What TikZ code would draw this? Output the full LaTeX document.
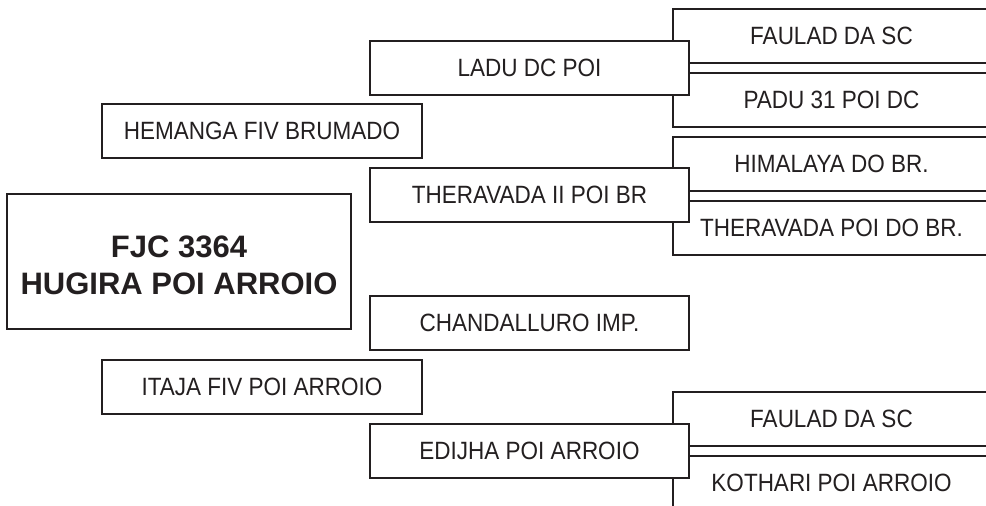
\documentclass[tikz,border=0pt]{standalone}
\usepackage{fontspec}
\setmainfont{Liberation Sans}
\newfontfamily\boxfont[FakeStretch=0.9]{Liberation Sans}
\definecolor{ink}{RGB}{35,31,32}
\begin{document}
\begin{tikzpicture}[x=1pt,y=-1pt,
  box/.style={draw=ink, line width=2pt, fill=white, minimum width=319pt, minimum height=54pt, inner sep=0pt, text=ink, font=\boxfont\fontsize{25}{30}\selectfont},
  rbox/.style={box, minimum width=317pt},
  mainbox/.style={box, minimum width=344pt, minimum height=135pt, align=center, font=\bfseries\fontsize{31}{37}\selectfont}]
\useasboundingbox (0,0) rectangle (986,506);
\clip (0,0) rectangle (986,506);
% right-hand pairs
\node[rbox] (r1a) at (831.5,35.5) {FAULAD DA SC};
\node[rbox] (r1b) at (831.5,99.5) {PADU 31 POI DC};
\node[rbox] (r2a) at (831.5,164) {HIMALAYA DO BR.};
\node[rbox] (r2b) at (831.5,228) {THERAVADA POI DO BR.};
\node[rbox] (r3a) at (831.5,419) {FAULAD DA SC};
\node[rbox] (r3b) at (831.5,483) {KOTHARI POI ARROIO};
% middle column
\node[box] (ladu) at (529.5,68) {LADU DC POI};
\node[box] (ther) at (529.5,195) {THERAVADA II POI BR};
\node[box] (chan) at (529.5,323) {CHANDALLURO IMP.};
\node[box] (edij) at (529.5,451) {EDIJHA POI ARROIO};
% left column
\node[box, minimum width=320pt] (hema) at (262,131) {HEMANGA FIV BRUMADO};
\node[box, minimum width=320pt] (itaj) at (262,387) {ITAJA FIV POI ARROIO};
\node[mainbox] (main) at (179,261.5) {\rule{0pt}{29pt}FJC 3364\\HUGIRA POI ARROIO};
\end{tikzpicture}
\end{document}
